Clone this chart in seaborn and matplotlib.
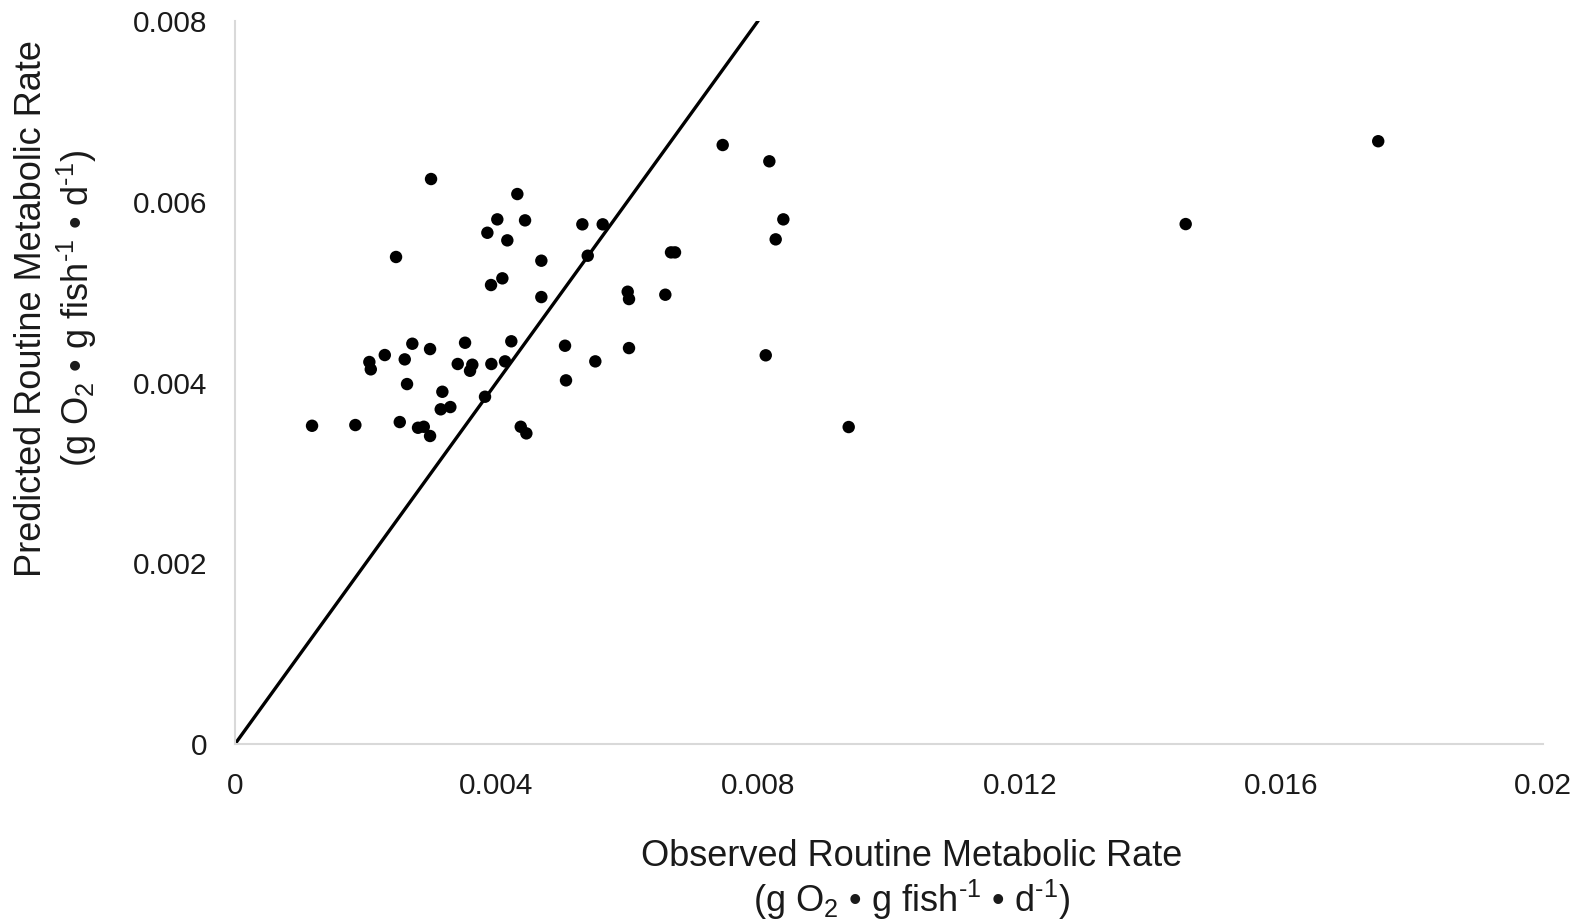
import matplotlib
matplotlib.use("Agg")
import matplotlib.pyplot as plt
import seaborn as sns
import pandas as pd
import numpy as np

# Observed (x) and predicted (y) routine metabolic rate
observed = [3.000, 4.319, 4.013, 4.437, 3.861, 4.166, 2.465, 4.686, 4.090, 3.917,
            4.686, 3.520, 4.227, 2.714, 2.985, 2.293, 2.057, 2.079, 2.598, 3.408,
            3.631, 3.596, 3.922, 4.131, 5.048, 2.633, 3.173, 5.063, 3.825, 3.148,
            3.295, 1.181, 1.843, 2.522, 2.801, 2.889, 2.985, 4.371, 4.457,
            7.458, 8.171, 8.385, 8.268, 5.313, 5.624, 5.395, 6.668, 6.729, 6.006,
            6.026, 6.581, 6.026, 5.511, 8.116, 9.384, 14.535, 17.478]
predicted = [6.250, 6.084, 5.804, 5.793, 5.656, 5.572, 5.388, 5.347, 5.152, 5.078,
             4.945, 4.440, 4.456, 4.429, 4.370, 4.304, 4.227, 4.146, 4.256, 4.205,
             4.197, 4.130, 4.205, 4.234, 4.407, 3.983, 3.898, 4.024, 3.843, 3.704,
             3.729, 3.522, 3.530, 3.563, 3.500, 3.511, 3.409, 3.511, 3.438,
             6.626, 6.446, 5.804, 5.583, 5.749, 5.749, 5.402, 5.439, 5.439, 5.004,
             4.923, 4.971, 4.381, 4.234, 4.301, 3.508, 5.752, 6.668]
observed = [v / 1000 for v in observed]
predicted = [v / 1000 for v in predicted]

# 1:1 reference line
line_x = [0.0, 0.008]
line_y = [0.0, 0.008]

x_ticks = [0, 0.004, 0.008, 0.012, 0.016, 0.02]
x_tick_labels = ["0", "0.004", "0.008", "0.012", "0.016", "0.02"]
y_ticks = [0, 0.002, 0.004, 0.006, 0.008]
y_tick_labels = ["0", "0.002", "0.004", "0.006", "0.008"]

sns.set_theme(style="white")
plt.rcParams['font.family'] = ['Liberation Sans', 'DejaVu Sans']
plt.rcParams['mathtext.fontset'] = 'custom'
plt.rcParams['mathtext.rm'] = 'Liberation Sans'
plt.rcParams['mathtext.it'] = 'Liberation Sans'

fig = plt.figure(figsize=(15.81, 9.22), dpi=100)
ax = fig.add_axes([0.1485, 0.1927, 0.9761 - 0.1485, 0.9775 - 0.1927])

df = pd.DataFrame({"obs": observed, "pred": predicted})
sns.scatterplot(data=df, x="obs", y="pred", ax=ax, color="black", s=80,
                edgecolor="none", zorder=3)
sns.lineplot(x=line_x, y=line_y, ax=ax, color="black", linewidth=2.4, zorder=2)

ax.set_xlim(0, 0.02)
ax.set_ylim(0, 0.008)
ax.set_xticks(x_ticks)
ax.set_xticklabels(x_tick_labels)
ax.set_yticks(y_ticks)
ax.set_yticklabels(y_tick_labels)
ax.tick_params(axis="both", length=0, labelsize=21.5, colors="#1a1a1a")
ax.tick_params(axis="x", pad=20)
ax.tick_params(axis="y", pad=20)

for side in ["top", "right"]:
    ax.spines[side].set_visible(False)
for side in ["left", "bottom"]:
    ax.spines[side].set_color("#d9d9d9")
    ax.spines[side].set_linewidth(1.5)

unit = r"(g O$_2$ • g fish$^{\text{-1}}$ • d$^{\text{-1}}$)"
ax.set_xlabel("Observed Routine Metabolic Rate\n" + unit, fontsize=26,
              linespacing=1.1, color="#1a1a1a")
ax.set_ylabel("Predicted Routine Metabolic Rate\n" + unit, fontsize=26,
              linespacing=1.15, color="#1a1a1a")
ax.xaxis.set_label_coords(0.517, -0.131)
ax.yaxis.set_label_coords(-0.104, 0.602)

fig.savefig("out.png", dpi=100)
